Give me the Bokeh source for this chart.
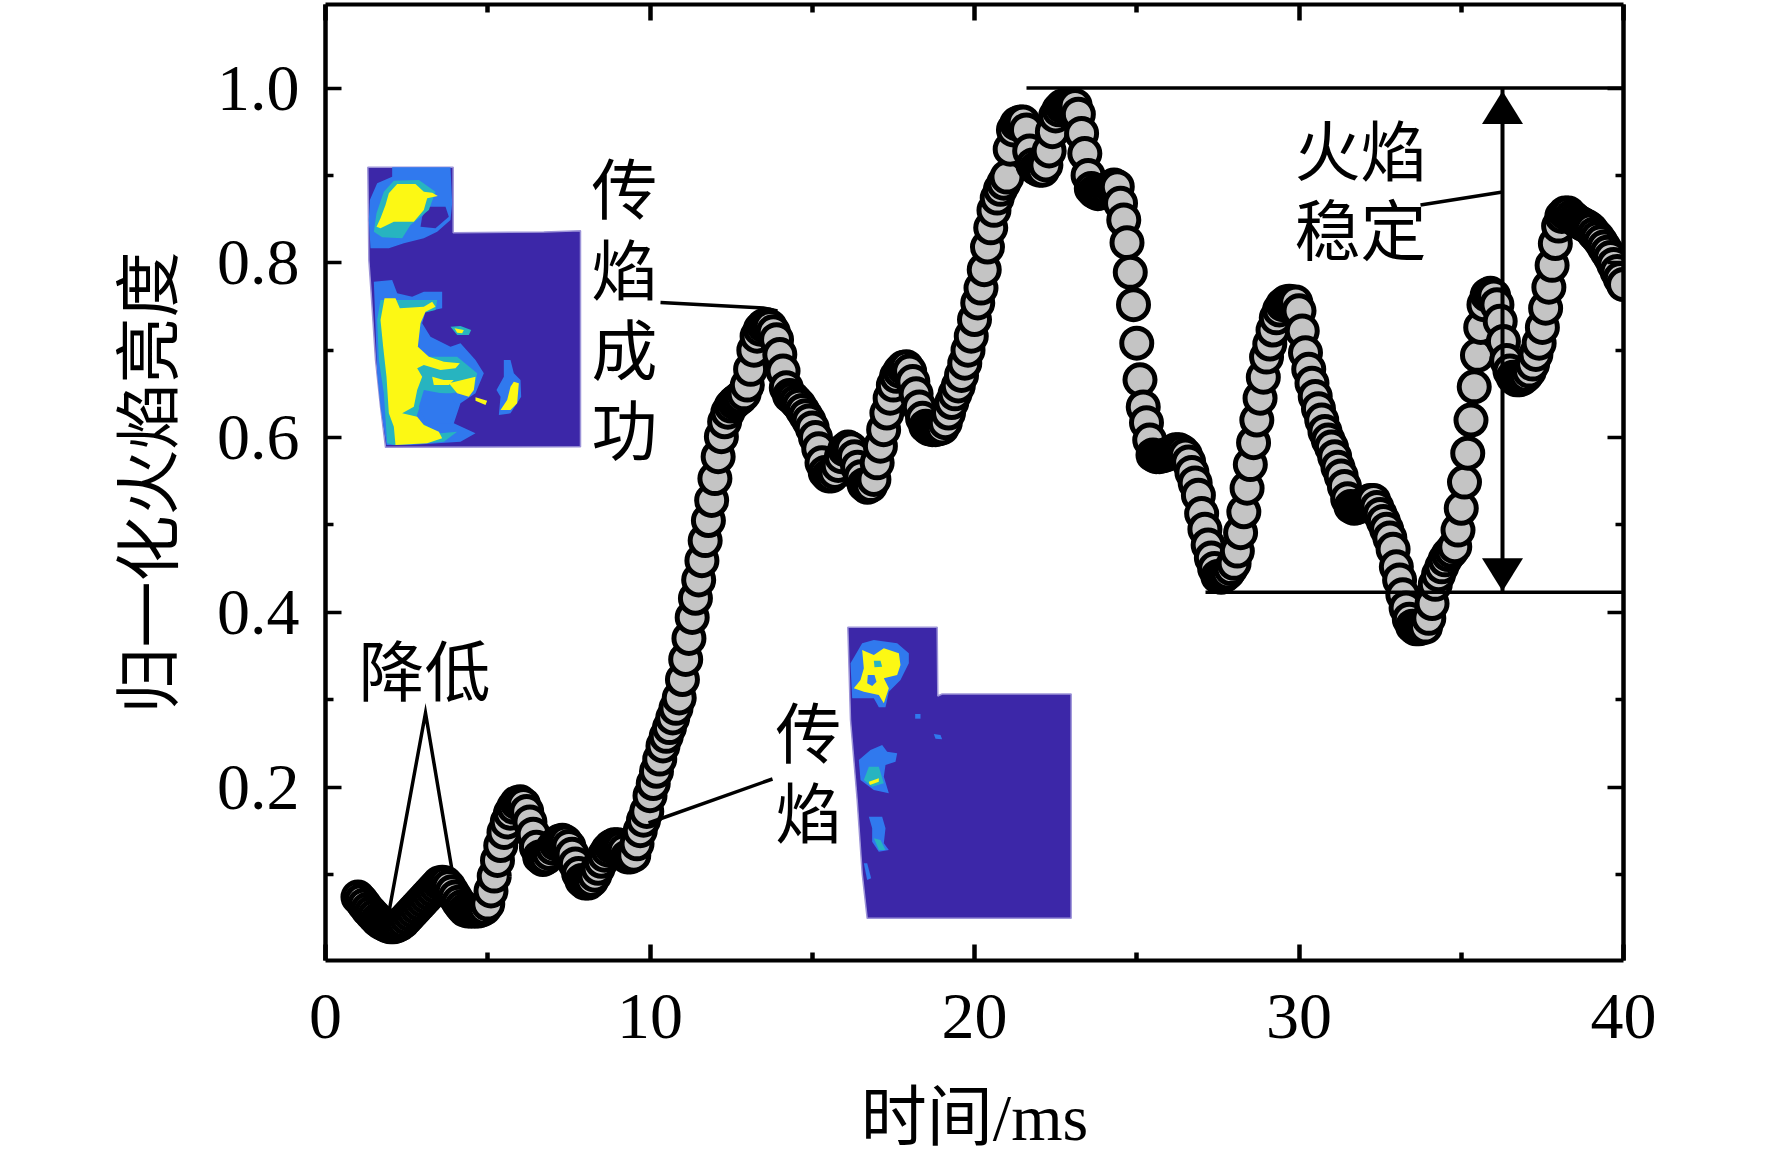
from bokeh.plotting import figure
from bokeh.models import Range1d, FixedTicker, LinearAxis, NumeralTickFormatter
from bokeh.core.properties import value
from bokeh.embed import file_html
from bokeh.resources import INLINE

# ---------- data ----------
brightness = [
    .074, .070, .065, .060, .056, .052, .048, .045, .043, .041,
    .040, .040, .041, .043, .046, .050, .054, .058, .062, .066,
    .070, .074, .078, .082, .086, .090, .091, .090, .086, .080,
    .074, .068, .063, .059, .058, .058, .058, .058, .059, .061,
    .066, .081, .098, .116, .133, .148, .160, .170, .177, .182,
    .183, .180, .172, .160, .146, .131, .120, .117, .119, .124,
    .130, .135, .138, .139, .137, .132, .123, .112, .101, .093,
    .090, .090, .093, .099, .107, .115, .122, .128, .132, .134,
    .134, .131, .127, .120, .120, .122, .135, .150, .162, .172,
    .190, .204, .218, .232, .247, .258, .268, .279, .290, .302,
    .323, .346, .370, .394, .416, .437, .459, .482, .505, .528,
    .553, .578, .601, .618, .629, .636, .640, .643, .646, .650,
    .660, .678, .700, .716, .724, .728, .729, .727, .721, .712,
    .695, .676, .657, .648, .645, .641, .637, .631, .625, .619,
    .611, .600, .587, .571, .560, .556, .556, .560, .568, .578,
    .586, .589, .587, .578, .566, .555, .546, .543, .545, .552,
    .571, .590, .609, .628, .645, .660, .670, .676, .680, .681,
    .676, .664, .650, .635, .622, .613, .610, .609, .609, .610,
    .611, .617, .628, .640, .650, .659, .671, .685, .700, .716,
    .735, .754, .771, .792, .818, .840, .860, .874, .884, .891,
    .898, .930, .952, .959, .961, .961, .952, .928, .912, .908,
    .906, .906, .912, .928, .950, .968, .975, .979, .980, .980,
    .980, .980, .970, .948, .925, .900, .885, .881, .879, .880,
    .881, .884, .887, .889, .887, .868, .849, .823, .789, .752,
    .708, .666, .635, .617, .597, .580, .578, .578, .579, .580,
    .582, .584, .586, .586, .584, .580, .572, .560, .548, .534,
    .513, .495, .477, .462, .450, .441, .440, .442, .445, .450,
    .456, .470, .491, .515, .542, .569, .594, .620, .645, .669,
    .692, .707, .723, .737, .746, .752, .755, .756, .755, .755,
    .745, .722, .697, .678, .662, .647, .633, .620, .607, .597,
    .589, .578, .566, .556, .544, .530, .521, .519, .520, .522,
    .524, .526, .528, .528, .520, .512, .504, .495, .485, .472,
    .452, .437, .420, .405, .392, .384, .381, .381, .382, .383,
    .393, .410, .432, .443, .452, .460, .466, .470, .475, .494,
    .519, .549, .582, .620, .658, .694, .726, .752, .763, .765,
    .762, .752, .733, .710, .688, .676, .669, .666, .666, .668,
    .671, .676, .684, .695, .708, .726, .748, .772, .797, .822,
    .842, .853, .857, .857, .853, .850, .847, .845, .843, .841,
    .838, .833, .829, .824, .818, .812, .806, .798, .790, .782,
    .775,
]
time_ms = [round(1.0 + 0.1 * i, 1) for i in range(len(brightness))]

x_major = [0, 10, 20, 30, 40]
x_minor = [5, 15, 25, 35]
y_major = [0.2, 0.4, 0.6, 0.8, 1.0]
y_minor = [0.1, 0.3, 0.5, 0.7, 0.9]
x_title = "时间/ms"
y_title = "归一化火焰亮度"
stable_top = 1.0
stable_bottom = 0.423

PARULA_DARK = "#3c27a8"
PARULA_BLUE = "#3079ee"
PARULA_TEAL = "#27b4c0"
PARULA_YELLOW = "#fcf814"

# inset outlines, as they sit in the picture (zoom-crop coordinates, scale 3)
inset_a_origin = (360, 160)
inset_a = [
    (PARULA_DARK, [(22,22),(278,22),(278,218),(550,216),(660,212),(660,860),(75,862),(60,740),(45,600),(32,400),(25,300)]),
    (PARULA_BLUE, [(95,22),(270,22),(275,130),(270,180),(230,215),(190,235),(130,250),(85,265),(30,265),(25,180),(28,120),(50,70),(95,50)]),
    (PARULA_DARK, [(205,140),(255,140),(265,170),(225,205),(180,200),(185,170)]),
    (PARULA_TEAL, [(100,62),(175,60),(225,95),(205,150),(150,195),(125,235),(65,232),(40,215),(48,160),(70,95)]),
    (PARULA_YELLOW, [(60,205),(100,185),(160,185),(190,150),(200,115),(232,108),(215,98),(190,95),(165,72),(110,72),(85,100),(75,135),(60,175),(48,200)]),
    (PARULA_BLUE, [(40,365),(95,360),(110,400),(155,410),(190,395),(245,395),(245,445),(195,455),(185,490),(210,530),(270,560),(300,550),(345,600),(370,640),(345,700),(300,730),(280,790),(345,820),(300,845),(150,855),(78,855),(60,740),(50,640),(45,500)]),
    (PARULA_TEAL, [(60,420),(130,420),(230,420),(225,450),(185,460),(170,560),(200,590),(290,590),(350,640),(340,690),(270,700),(190,700),(165,780),(240,820),(290,815),(250,845),(100,855),(80,850),(70,700),(55,600),(50,480)]),
    (PARULA_BLUE, [(190,690),(270,705),(290,740),(270,790),(200,790),(175,740)]),
    (PARULA_YELLOW, [(72,415),(105,415),(118,445),(190,440),(215,425),(225,440),(195,455),(180,490),(172,560),(205,590),(250,605),(298,610),(285,625),(240,630),(190,615),(170,625),(185,650),(170,690),(160,740),(125,760),(170,770),(190,795),(235,815),(245,835),(200,850),(105,855),(100,800),(85,760),(78,650),(68,560),(60,480)]),
    (PARULA_YELLOW, [(265,670),(345,650),(340,690),(325,710),(290,700)]),
    (PARULA_YELLOW, [(215,650),(250,660),(280,660),(265,675),(220,675)]),
    (PARULA_TEAL, [(270,500),(300,498),(332,510),(325,525),(290,525)]),
    (PARULA_YELLOW, [(282,505),(310,510),(305,520),(290,518)]),
    (PARULA_YELLOW, [(345,712),(380,722),(375,735),(345,722)]),
    (PARULA_BLUE, [(430,600),(450,600),(460,640),(480,660),(482,710),(450,760),(415,765),(420,710),(408,690),(430,650)]),
    (PARULA_YELLOW, [(460,665),(475,670),(470,730),(450,750),(420,750),(440,720),(450,680)]),
]
inset_b_origin = (840, 620)
inset_b = [
    (PARULA_DARK, [(22,22),(290,22),(292,228),(305,222),(692,222),(692,895),(80,895),(65,760),(50,540),(30,300)]),
    (PARULA_BLUE, [(65,70),(100,60),(170,70),(205,100),(205,130),(180,180),(145,215),(135,262),(115,262),(100,235),(35,235),(30,130)]),
    (PARULA_YELLOW, [(65,90),(100,105),(130,85),(175,100),(180,135),(170,165),(130,175),(145,205),(130,250),(115,225),(70,215),(40,205),(60,180),(70,145)]),
    (PARULA_TEAL, [(100,122),(120,122),(125,140),(102,142)]),
    (PARULA_BLUE, [(82,165),(102,165),(108,185),(95,198),(80,190)]),
    (PARULA_BLUE, [(90,390),(125,375),(140,395),(170,400),(165,425),(135,435),(130,470),(145,520),(100,510),(60,480),(55,420)]),
    (PARULA_TEAL, [(85,440),(115,440),(130,490),(95,500),(70,480)]),
    (PARULA_YELLOW, [(85,485),(115,475),(115,485),(88,495)]),
    (PARULA_BLUE, [(85,590),(125,590),(135,625),(130,670),(145,690),(115,695),(95,665),(95,625)]),
    (PARULA_TEAL, [(100,655),(120,660),(135,690),(115,690)]),
    (PARULA_BLUE, [(70,730),(80,730),(92,775),(80,780)]),
    (PARULA_BLUE, [(224,282),(240,282),(240,296),(224,296)]),
    (PARULA_BLUE, [(280,342),(300,345),(305,358),(285,356)]),
]

# annotations: text, centre in picture pixels
labels = [
    ("传", 624, 191), ("焰", 624, 272), ("成", 624, 352), ("功", 624, 432),
    ("火焰", 1360, 153), ("稳定", 1360, 232),
    ("降低", 424, 673),
    ("传", 808, 735), ("焰", 808, 815),
]
leaders = [
    [(660, 302.5), (763, 308), (777, 311)],
    [(772, 779), (648, 823)],
    [(389, 909), (425, 713), (452, 873)],
    [(1420, 205), (1502, 192)],
]

# ---------- figure ----------
LEFT, TOP = 325.0, 88.0
PX_PER_MS, PX_PER_UNIT = 32.45, 873.75


def to_x(px):
    return (px - LEFT) / PX_PER_MS


def to_y(py):
    return 1.0 - (py - TOP) / PX_PER_UNIT


FONT = "Liberation Serif, Noto Sans CJK SC"

p = figure(
    width=1756, height=1158, output_backend="svg", toolbar_location=None,
    min_border_left=325, min_border_right=133, min_border_top=4, min_border_bottom=198,
    x_range=Range1d(0, 40), y_range=Range1d(to_y(960.5), to_y(4.5)),
    background_fill_color="white", border_fill_color="white",
)
p.grid.visible = False
p.outline_line_color = None


def style_axis(ax, major, minor, line_w, tick_w):
    ax.ticker = FixedTicker(ticks=major, minor_ticks=minor)
    ax.axis_line_color = "black"
    ax.axis_line_width = line_w
    ax.major_tick_line_color = "black"
    ax.minor_tick_line_color = "black"
    ax.major_tick_line_width = tick_w
    ax.minor_tick_line_width = tick_w
    ax.major_tick_in = 16
    ax.major_tick_out = 0
    ax.minor_tick_in = 8
    ax.minor_tick_out = 0


bottom = p.xaxis[0]
style_axis(bottom, x_major, x_minor, 4, 4.5)
bottom.major_label_text_font = FONT
bottom.major_label_text_font_size = "66px"
bottom.major_label_standoff = 34
bottom.major_label_text_color = "black"
bottom.axis_label = x_title
bottom.axis_label_text_font = FONT
bottom.axis_label_text_font_size = "66px"
bottom.axis_label_text_font_style = "normal"
bottom.axis_label_text_color = "black"
bottom.axis_label_standoff = 40

left = p.yaxis[0]
style_axis(left, y_major, y_minor, 4.5, 3.5)
left.formatter = NumeralTickFormatter(format="0.0")
left.major_label_text_font = FONT
left.major_label_text_font_size = "66px"
left.major_label_standoff = 26
left.major_label_text_color = "black"
left.axis_label = y_title
left.axis_label_text_font = FONT
left.axis_label_text_font_size = "66px"
left.axis_label_text_font_style = "normal"
left.axis_label_text_color = "black"
left.axis_label_standoff = 28

top_ax = LinearAxis(major_label_overrides={t: "" for t in x_major})
style_axis(top_ax, x_major, x_minor, 4, 4.5)
p.add_layout(top_ax, "above")
right_ax = LinearAxis(major_label_overrides={t: "" for t in y_major})
style_axis(right_ax, y_major, y_minor, 4.5, 3.5)
p.add_layout(right_ax, "right")

# insets
for origin, shapes in ((inset_a_origin, inset_a), (inset_b_origin, inset_b)):
    for i, (colour, pts) in enumerate(shapes):
        p.patch(
            [to_x(origin[0] + a / 3) for a, b in pts],
            [to_y(origin[1] + b / 3) for a, b in pts],
            fill_color=colour, line_color="#9d94d8" if i == 0 else None, line_width=1.5,
        )

# curve
p.scatter(time_ms, brightness, marker="circle", size=30, fill_color="#c4c4c4",
          line_color="black", line_width=5)

# stability bracket
arrow_x = to_x(1502)
p.segment(x0=[to_x(1026), to_x(1205)], y0=[stable_top, stable_bottom],
          x1=[40, 40], y1=[stable_top, stable_bottom], line_color="black", line_width=3.5)
p.segment(x0=[arrow_x], y0=[stable_top], x1=[arrow_x], y1=[stable_bottom],
          line_color="black", line_width=4)
half = 20.5 / PX_PER_MS
head = 33 / PX_PER_UNIT
p.patch([arrow_x, arrow_x - half, arrow_x + half],
        [stable_top - 3 / PX_PER_UNIT, stable_top - 3 / PX_PER_UNIT - head, stable_top - 3 / PX_PER_UNIT - head],
        fill_color="black", line_color=None)
p.patch([arrow_x, arrow_x - half, arrow_x + half],
        [stable_bottom + 1 / PX_PER_UNIT, stable_bottom + 1 / PX_PER_UNIT + head, stable_bottom + 1 / PX_PER_UNIT + head],
        fill_color="black", line_color=None)

for pts in leaders:
    p.line([to_x(a) for a, b in pts], [to_y(b) for a, b in pts], line_color="black",
           line_width=3.5, line_join="miter")

p.text(
    x=[to_x(a) for _, a, _ in labels], y=[to_y(b) for _, _, b in labels],
    text=[t for t, _, _ in labels], text_font=value(FONT), text_font_size="66px",
    text_align="center", text_baseline="middle", text_color="black",
)

open("out.html", "w").write(file_html(p, INLINE))
